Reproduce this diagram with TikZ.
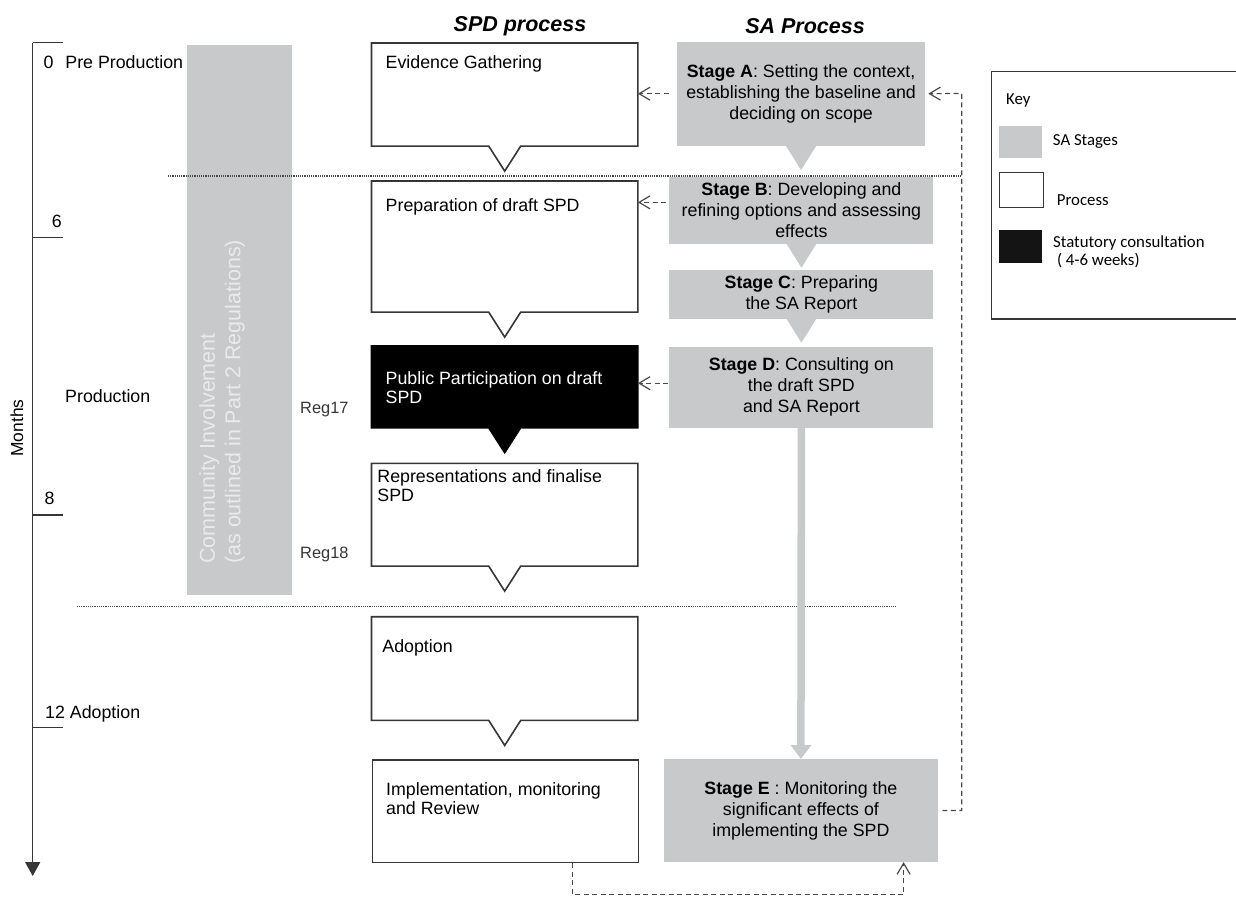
\documentclass[tikz,border=0pt]{standalone}
\usepackage{fontspec}
\setmainfont{Liberation Sans}
\newfontfamily\keyfont{Carlito}
\usetikzlibrary{positioning, arrows.meta, calc}

\definecolor{sagrey}{HTML}{C8C9CB}
\definecolor{linegrey}{HTML}{363636}
\definecolor{dashgrey}{HTML}{4A4A4A}
\definecolor{commtext}{HTML}{E9EAEB}

% outline of an SPD box with the notch below it
\newcommand{\spdframe}[2]{%
  \draw[boxline, #2] (#1.north west) -- (#1.north east) -- (#1.south east)
    -- ([xshift=16pt]#1.south) -- ([yshift=-25pt]#1.south) -- ([xshift=-16pt]#1.south)
    -- (#1.south west) -- cycle;}

\begin{document}
\begin{tikzpicture}[x=1pt,y=-1pt,
  every node/.style={inner sep=0pt},
  boxline/.style={draw=linegrey, line width=1.6pt},
  spd/.style={rectangle, anchor=north west, minimum width=266pt},
  spdtext/.style={anchor=north west, align=left, font=\fontsize{17.8}{19.5}\selectfont},
  sa/.style={rectangle, anchor=north west, fill=sagrey, align=center,
    font=\fontsize{17.8}{21}\selectfont},
  hdr/.style={font=\fontsize{21.5}{24}\selectfont\bfseries\itshape},
  side/.style={anchor=west, font=\fontsize{17.8}{20}\selectfont},
  reg/.style={anchor=west, text=linegrey, font=\fontsize{16.4}{18}\selectfont},
  axis/.style={draw=linegrey, line width=1.5pt},
  sep/.style={draw=dashgrey, line width=1.4pt, dash pattern=on 1.2pt off 1pt},
  dasharrow/.style={draw=dashgrey, line width=1.2pt, dash pattern=on 5pt off 3.5pt,
    -{Straight Barb[length=11pt,width=13pt]}},
  keytext/.style={anchor=west, font=\keyfont\fontsize{16.8}{18}\selectfont},
  swatch/.style={rectangle, anchor=north west}]

\useasboundingbox (0,0) rectangle (1236,897);

% headers
\node[hdr] (spdhead) at (520,26) {SPD process};
\node[hdr] (sahead) at (805,26) {SA Process};

% time axis
\coordinate (axtop) at (32.7,42.7);
\coordinate (axbot) at (32.7,876);
\draw[axis, -{Triangle[length=14pt,width=15pt]}] (axtop) -- (axbot);
\foreach \ty [count=\i] in {42.7,237.3,515,727.7} {
  \coordinate (tick\i) at (32.7,\ty);
  \draw[axis] (tick\i) -- ++(30.6,0);
}
\node[side] (pre) at (43.3,62.3) {0\hspace{12pt}Pre Production};
\node[side] (six) at (51.7,221.7) {6};
\node[side] (prod) at (65,396) {Production};
\node[side] (eight) at (44.3,498) {8};
\node[side] (adoptm) at (45,714) {12 Adoption};
\node[rotate=90, font=\fontsize{17.4}{20}\selectfont] (months) at (17,428) {Months};

% community involvement column
\node[rectangle, anchor=north west, fill=sagrey, minimum width=105pt,
  minimum height=550.7pt] (comm) at (186.7,44.3) {};
\node[rotate=90, anchor=north west, align=left, text=commtext,
  font=\fontsize{21.5}{25.5}\selectfont] (commtxt) at (199,564)
  {Community Involvement\\(as outlined in Part 2 Regulations)};
\node[reg] (reg17) at (300,410) {Reg17};
\node[reg] (reg18) at (300,554) {Reg18};

% stage separators
\coordinate (sepa) at (168,176);
\coordinate (sepb) at (962,176);
\coordinate (sepc) at (76.7,606.5);
\coordinate (sepd) at (896,606.5);
\draw[sep] (sepa) -- (sepb);
\draw[sep] (sepc) -- (sepd);

% SPD process
\node[spd, minimum height=102.7pt] (evid) at (371.5,43) {};
\node[spd, minimum height=130.7pt] (prep) at (371.5,181) {};
\node[spd, minimum height=81.3pt] (pub) at (371.5,346) {};
\node[spd, minimum height=102.4pt] (repr) at (371.5,463.3) {};
\node[spd, minimum height=103.3pt] (adopt) at (371.5,616.7) {};
\node[spd, boxline, minimum height=102.4pt] (impl) at (371.5,759.3) {};
\spdframe{evid}{fill=white}
\spdframe{prep}{fill=white}
\spdframe{pub}{fill=black, draw=black}
\spdframe{repr}{fill=white}
\spdframe{adopt}{fill=white}

\node[spdtext, below right=12.3pt and 14pt of evid.north west] (evidtxt) {Evidence Gathering};
\node[spdtext, below right=17.6pt and 14pt of prep.north west] (preptxt) {Preparation of draft SPD};
\node[spdtext, text=white, below right=24.9pt and 14pt of pub.north west] (pubtxt)
  {Public Participation on draft\\SPD};
\node[spdtext, below right=6pt and 5.7pt of repr.north west] (reprtxt)
  {Representations and finalise\\SPD};
\node[spdtext, below right=22.9pt and 10.7pt of adopt.north west] (adopttxt) {Adoption};
\node[spdtext, below right=22.6pt and 14.5pt of impl.north west] (impltxt)
  {Implementation, monitoring\\and Review};

% SA process
\node[sa, minimum width=248pt, minimum height=104.4pt] (stA) at (676.9,41.3)
  {\textbf{Stage A}: Setting the context,\\establishing the baseline and\\deciding on scope};
\node[sa, minimum width=264pt, minimum height=66.3pt] (stB) at (669.2,177)
  {\textbf{Stage B}: Developing and\\refining options and assessing\\effects};
\node[sa, minimum width=264pt, minimum height=48.3pt] (stC) at (669.2,270)
  {\textbf{Stage C}: Preparing\\the SA Report};
\node[sa, minimum width=264pt, minimum height=80.6pt] (stD) at (669.2,346.7)
  {\textbf{Stage D}: Consulting on\\the draft SPD\\and SA Report};
\node[sa, minimum width=274.4pt, minimum height=102.7pt] (stE) at (663.5,759)
  {\textbf{Stage E} : Monitoring the\\significant effects of\\implementing the SPD};
\foreach \st in {stA,stB,stC} {
  \fill[sagrey] ([xshift=-15pt]\st.south) -- ([yshift=-24pt]\st.south) -- ([xshift=15pt]\st.south) -- cycle;
}
\draw[sagrey, line width=7.5pt, -{Triangle[length=14pt,width=20pt]}] (stD.south) -- (stE.north);

% links between the two processes
\draw[dasharrow] (stA.west) ++(-8,0) -- (stA.west -| evid.east);
\draw[dasharrow] ([yshift=8pt]stB.west) ++(-3,0) -- ([yshift=8pt]stB.west -| prep.east);
\draw[dasharrow] ([yshift=4pt]stD.west) ++(-1,0) -- ([yshift=4pt]stD.west -| pub.east);
\coordinate (fbk) at (961.7,93.5);
\draw[dasharrow] ([xshift=4pt]stE.east) -| (fbk) -- ([xshift=3pt]stA.east);
\draw[dasharrow] ([xshift=67pt]impl.south) -- ++(0,31.3) -| ([xshift=102.7pt]stE.south);

% key
\node[rectangle, anchor=north west, draw=linegrey, line width=1.3pt, minimum width=250pt,
  minimum height=247.5pt] (key) at (990.7,70.7) {};
\node[keytext] (keytitle) at (1006,100) {Key};
\node[swatch, fill=sagrey, minimum width=43pt, minimum height=32pt] (swsa) at (999,126) {};
\node[keytext] (lblsa) at (1052.7,141) {SA Stages};
\node[swatch, draw=linegrey, line width=1.2pt, fill=white, minimum width=44pt,
  minimum height=35pt] (swproc) at (999,172) {};
\node[keytext] (lblproc) at (1056.7,200) {Process};
\node[swatch, fill=black!92, minimum width=43pt, minimum height=33pt] (swstat) at (999,230) {};
\node[keytext, anchor=north west, align=left] (lblstat) at (1053,236)
  {Statutory consultation\\\ ( 4-6 weeks)};
\end{tikzpicture}
\end{document}
